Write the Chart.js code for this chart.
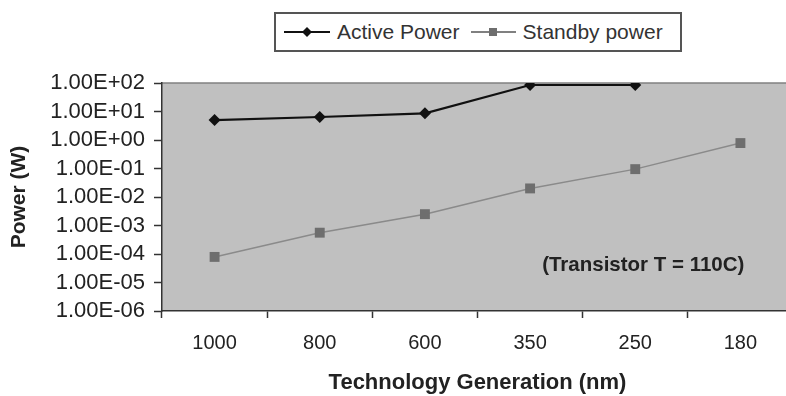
<!DOCTYPE html>
<html>
<head>
<meta charset="utf-8">
<script src="https://cdn.jsdelivr.net/npm/chart.js@4"></script>
<style>
    html, body { margin: 0; padding: 0; background: #fff; overflow: hidden; }
    #wrap { position: relative; width: 786px; height: 396px; overflow: hidden; }
    #chart { position: absolute; left: 0; top: 0; }
    #legend {
        position: absolute; left: 274px; top: 12px; width: 404px; height: 36px;
        border: 2px solid #555; background: #fff;
        display: flex; align-items: center;
        font: 21px "Liberation Sans", Arial, sans-serif; color: #333;
    }
    #legend svg { display: block; }
</style>
</head>
<body>
<div id="wrap">
    <canvas id="chart" width="800" height="396"></canvas>
    <div id="legend">
        <svg width="46" height="14" style="margin-left:8px">
            <line x1="0" y1="7" x2="46" y2="7" stroke="#111" stroke-width="2"/>
            <polygon points="23,2 28,7 23,12 18,7" fill="#111"/>
        </svg>
        <span style="margin-left:7px">Active Power</span>
        <svg width="45" height="14" style="margin-left:11px">
            <line x1="0" y1="7" x2="45" y2="7" stroke="#808080" stroke-width="2"/>
            <rect x="18" y="3" width="8" height="8" fill="#6e6e6e"/>
        </svg>
        <span style="margin-left:7px">Standby power</span>
    </div>
</div>
<script>
const generations = ['1000', '800', '600', '350', '250', '180'];
const activePower = [5.0, 6.4, 8.6, 85, 85, null];
const standbyPower = [7.9e-5, 5.6e-4, 2.5e-3, 2.0e-2, 9.5e-2, 0.78];
const powerTicks = [1e2, 1e1, 1e0, 1e-1, 1e-2, 1e-3, 1e-4, 1e-5, 1e-6];

// 1.00E+02 style labels, two-digit exponent like a spreadsheet
function sciLabel(v) {
    const [m, e] = v.toExponential(2).toUpperCase().split('E');
    const n = parseInt(e, 10);
    return `${m}E${n < 0 ? '-' : '+'}${String(Math.abs(n)).padStart(2, '0')}`;
}

const plotBackground = {
    id: 'plotBackground',
    beforeDraw(chart) {
        const { ctx, chartArea: a } = chart;
        ctx.save();
        ctx.fillStyle = '#c0c0c0';
        ctx.fillRect(a.left, a.top, a.right - a.left, a.bottom - a.top);
        ctx.strokeStyle = '#808080';
        ctx.lineWidth = 1.5;
        ctx.beginPath();
        ctx.moveTo(a.left, a.top);
        ctx.lineTo(a.right, a.top);
        ctx.stroke();
        ctx.restore();
    }
};

const tempNote = {
    id: 'tempNote',
    afterDatasetsDraw(chart) {
        const { ctx, scales } = chart;
        const x = scales.x.getPixelForValue(4) + 8;
        const y = scales.y.getPixelForValue(4e-5);
        ctx.save();
        ctx.font = 'bold 20.5px "Liberation Sans", Arial, sans-serif';
        ctx.fillStyle = '#222';
        ctx.textAlign = 'center';
        ctx.textBaseline = 'middle';
        ctx.fillText('(Transistor T = 110C)', x, y);
        ctx.restore();
    }
};

const ctx = document.getElementById('chart').getContext('2d');
new Chart(ctx, {
    type: 'line',
    data: {
        labels: generations,
        datasets: [{
            label: 'Active Power',
            data: activePower,
            borderColor: '#111',
            backgroundColor: '#111',
            borderWidth: 2.2,
            pointStyle: 'rectRot',
            pointRadius: 6,
            pointBorderWidth: 0,
            spanGaps: false,
        }, {
            label: 'Standby power',
            data: standbyPower,
            borderColor: '#8a8a8a',
            backgroundColor: '#6e6e6e',
            borderWidth: 1.5,
            pointStyle: 'rect',
            pointRadius: 7,
            pointBorderWidth: 0,
        }],
    },
    options: {
        responsive: false,
        animation: false,
        devicePixelRatio: 1,
        layout: { padding: { top: 83, right: 4, bottom: 0, left: 0 } },
        plugins: {
            legend: { display: false },
            tooltip: { enabled: false },
        },
        scales: {
            x: {
                offset: true,
                grid: {
                    offset: true,
                    drawOnChartArea: false,
                    drawTicks: true,
                    tickLength: 7,
                    tickColor: '#333',
                    tickWidth: 1.5,
                },
                border: { color: '#333', width: 1.5 },
                ticks: {
                    padding: 13,
                    color: '#222',
                    maxRotation: 0,
                    font: { family: '"Liberation Sans", Arial, sans-serif', size: 20 },
                },
                title: {
                    display: true,
                    text: 'Technology Generation (nm)',
                    color: '#222',
                    padding: { top: 0, bottom: 0 },
                    font: { family: '"Liberation Sans", Arial, sans-serif', size: 22, weight: 'bold' },
                },
                afterFit(scale) { scale.height = 85; },
            },
            y: {
                type: 'logarithmic',
                min: 1e-6,
                max: 1e2,
                afterBuildTicks(scale) {
                    scale.ticks = powerTicks.map(v => ({ value: v }));
                },
                grid: {
                    drawOnChartArea: false,
                    drawTicks: true,
                    tickLength: 8,
                    tickColor: '#333',
                    tickWidth: 1.5,
                },
                border: { color: '#333', width: 1.5 },
                ticks: {
                    padding: 9,
                    color: '#222',
                    autoSkip: false,
                    font: { family: '"Liberation Sans", Arial, sans-serif', size: 22 },
                    callback: v => sciLabel(v),
                },
                title: {
                    display: true,
                    text: 'Power (W)',
                    color: '#222',
                    padding: { top: 7, bottom: 0 },
                    font: { family: '"Liberation Sans", Arial, sans-serif', size: 21, weight: 'bold' },
                },
                afterFit(scale) { scale.width = 162; },
            },
        },
    },
    plugins: [plotBackground, tempNote],
});
</script>
</body>
</html>
